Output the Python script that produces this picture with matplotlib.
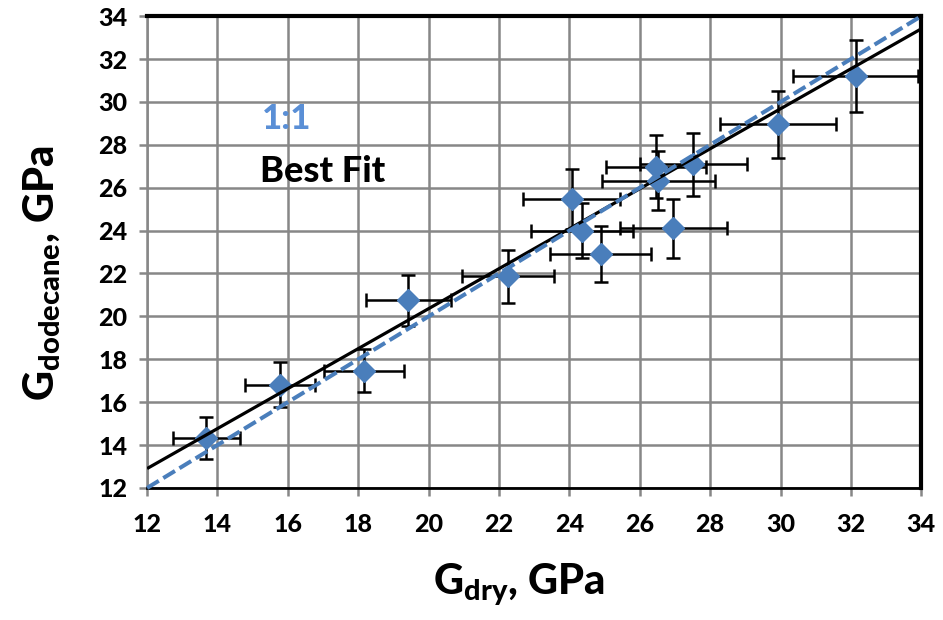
"""
Shear modulus with dodecane vs dry shear modulus, with 1:1 and best fit lines.
"""

import numpy as np
import matplotlib
matplotlib.use("Agg")
import matplotlib.pyplot as plt


# values
g_dry = [13.68, 15.78, 18.16, 19.42, 22.26, 24.07, 24.35, 24.89, 26.95, 26.45, 26.53, 27.52, 29.92, 32.13]
g_dodecane = [14.33, 16.82, 17.46, 20.74, 21.86, 25.47, 24.0, 22.92, 24.1, 26.98, 26.33, 27.1, 28.96, 31.21]
g_dry_err = [0.95, 0.99, 1.14, 1.21, 1.31, 1.38, 1.45, 1.43, 1.52, 1.42, 1.61, 1.52, 1.65, 1.77]
g_dodecane_err = [1.0, 1.05, 1.0, 1.19, 1.23, 1.4, 1.27, 1.3, 1.36, 1.47, 1.36, 1.47, 1.57, 1.69]

fit_slope = 0.932
fit_intercept = 1.72

axis_min, axis_max = 12, 34
ticks = list(range(12, 35, 2))

GRID = "#878787"
BLUE = "#4A7EBB"
TEXT_BLUE = "#5A8FD6"

plt.rcParams["font.family"] = ["Lato", "DejaVu Sans"]
plt.rcParams["font.weight"] = "black"
plt.rcParams["mathtext.default"] = "regular"

fig = plt.figure(figsize=(9.43, 6.2), dpi=100)
ax = fig.add_axes([0.156, 0.213, 0.821, 0.761])

ax.errorbar(g_dry, g_dodecane, xerr=g_dry_err, yerr=g_dodecane_err, fmt="none",
            ecolor="black", elinewidth=1.8, capsize=4.8, capthick=1.8, zorder=3)
ax.plot(g_dry, g_dodecane, ls="none", marker="D", markersize=11.5,
        color=BLUE, markeredgecolor=BLUE, zorder=4)

xs = np.array([axis_min, axis_max])
ax.plot(xs, fit_slope * xs + fit_intercept, color="black", lw=2.3, zorder=5,
        solid_capstyle="butt")
ax.plot(xs, xs, color=BLUE, lw=2.9, ls=(0, (3.4, 1.3)), zorder=6, clip_on=False)

ax.text(15.25, 29.2, "1:1", color=TEXT_BLUE, fontsize=25, fontweight="black",
        ha="left", va="center")
ax.text(15.2, 26.75, "Best Fit", color="black", fontsize=26, fontweight="black",
        ha="left", va="center")

ax.set_xlim(axis_min, axis_max)
ax.set_ylim(axis_min, axis_max)
ax.set_xticks(ticks)
ax.set_yticks(ticks)
ax.grid(True, color=GRID, lw=1.8)
ax.set_axisbelow(True)

ax.tick_params(axis="both", direction="out", length=6, width=1.8, color=GRID,
               labelsize=18, pad=8)
for lab in ax.get_xticklabels() + ax.get_yticklabels():
    lab.set_fontweight("black")
ax.tick_params(axis="x", pad=12)

ax.spines["left"].set_color(GRID)
ax.spines["left"].set_linewidth(1.8)
ax.spines["bottom"].set_color("black")
ax.spines["bottom"].set_linewidth(2.0)
ax.spines["top"].set_color("black")
ax.spines["top"].set_linewidth(3.0)
ax.spines["right"].set_color("black")
ax.spines["right"].set_linewidth(3.0)

ax.set_xlabel("G$_{dry}$, GPa", fontsize=30, fontweight="black")
ax.set_ylabel("G$_{dodecane}$, GPa", fontsize=30, fontweight="black")
ax.xaxis.set_label_coords(0.48, -0.155)
ax.yaxis.set_label_coords(-0.108, 0.455)

fig.savefig("out.png", dpi=100)
